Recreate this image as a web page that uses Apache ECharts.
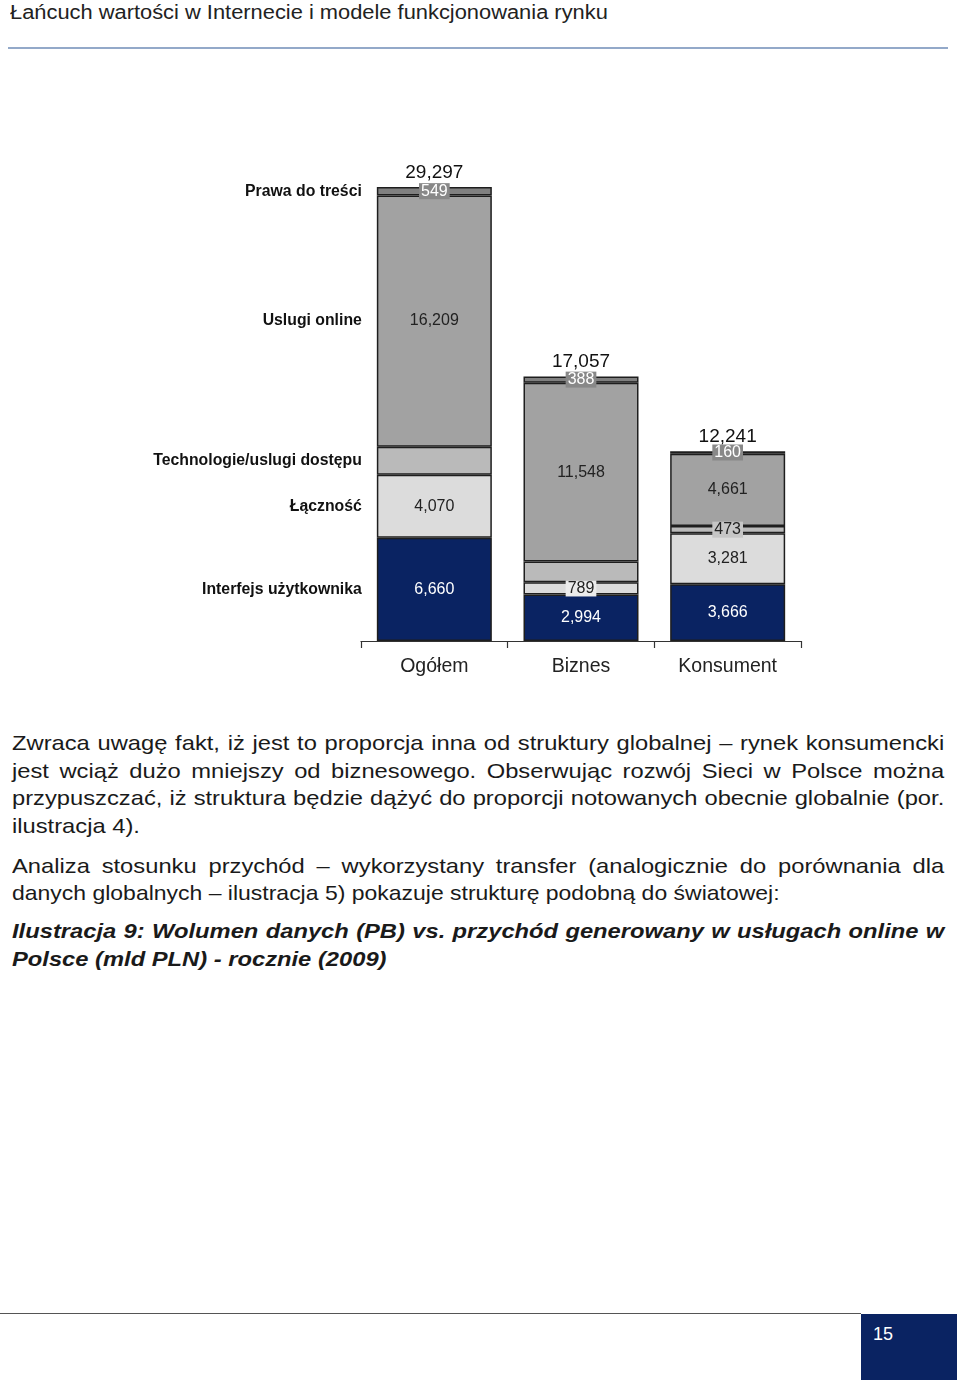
<!DOCTYPE html>
<html><head><meta charset="utf-8">
<script src="https://cdn.jsdelivr.net/npm/echarts@6.0.0/dist/echarts.min.js"></script>
<style>
html,body{margin:0;padding:0;background:#fff}
body{width:960px;height:1383px;position:relative;overflow:hidden;font-family:'Liberation Sans',Arial,sans-serif;color:#1a1a1a}
.hdr{position:absolute;left:10px;top:0px;font-size:20px;line-height:24px;color:#222;white-space:nowrap;transform:scaleX(1.093);transform-origin:0 0}
.hline{position:absolute;left:8px;top:47px;width:940px;height:2px;background:#93a9c9}
.ln{position:absolute;left:12px;width:825px;font-size:21px;line-height:28px;white-space:nowrap;transform:scaleX(1.13);transform-origin:0 0}
.j{text-align:justify;text-align-last:justify;white-space:normal}
.cap{font-weight:bold;font-style:italic}
#chart{position:absolute;left:0;top:132px;width:960px;height:560px}
.fline{position:absolute;left:0;top:1313px;width:861px;height:1px;background:#555}
.fbox{position:absolute;left:861px;top:1314px;width:96px;height:66px;background:#0a2362;color:#fff;font-size:18px}
.fbox span{position:absolute;left:12px;top:10px}
</style></head>
<body>
<div class="hdr">Łańcuch wartości w Internecie i modele funkcjonowania rynku</div>
<div class="hline"></div>
<div id="chart"></div>
<div class="ln j" style="top:729px">Zwraca uwagę fakt, iż jest to proporcja inna od struktury globalnej – rynek konsumencki</div>
<div class="ln j" style="top:757px">jest wciąż dużo mniejszy od biznesowego. Obserwując rozwój Sieci w Polsce można</div>
<div class="ln j" style="top:784px">przypuszczać, iż struktura będzie dążyć do proporcji notowanych obecnie globalnie (por.</div>
<div class="ln" style="top:812px">ilustracja 4).</div>
<div class="ln j" style="top:852px">Analiza stosunku przychód – wykorzystany transfer (analogicznie do porównania dla</div>
<div class="ln" style="top:879px;transform:scaleX(1.094)">danych globalnych – ilustracja 5) pokazuje strukturę podobną do światowej:</div>
<div class="ln j cap" style="top:917px">Ilustracja 9: Wolumen danych (PB) vs. przychód generowany w usługach online w</div>
<div class="ln cap" style="top:945px">Polsce (mld PLN) - rocznie (2009)</div>
<div class="fline"></div>
<div class="fbox"><span>15</span></div>
<script>
const categories = ['Ogółem', 'Biznes', 'Konsument'];
const seriesNames = ['Interfejs użytkownika', 'Łączność', 'Technologie/uslugi dostępu', 'Uslugi online', 'Prawa do treści'];
const interfejs = [6660, 2994, 3666];
const lacznosc = [4070, 789, 3281];
const technologie = [1809, 1338, 473];
const uslugi = [16209, 11548, 4661];
const prawa = [549, 388, 160];

const FONT = "'Liberation Sans', Arial, sans-serif";
const fmt = v => Number(v).toLocaleString('en-US');
const values = [interfejs, lacznosc, technologie, uslugi, prawa];
const totals = categories.map((c, i) => values.reduce((s, arr) => s + arr[i], 0));
const colors = ['#0a2362', '#dcdcdc', '#bababa', '#a2a2a2', '#808080'];
const BW = 115;

function seg(idx, labelCfg, dataFn) {
  return {
    name: seriesNames[idx], type: 'bar', stack: 'a', barWidth: BW,
    itemStyle: { color: colors[idx], borderColor: '#1e1e1e', borderWidth: 1.5 },
    label: Object.assign({ show: true, position: 'inside', fontFamily: FONT, fontSize: 16, color: '#222', formatter: p => fmt(p.value) }, labelCfg),
    data: dataFn ? values[idx].map(dataFn) : values[idx],
    silent: true
  };
}

const chart = echarts.init(document.getElementById('chart'), null, { renderer: 'canvas' });
const option = {
  animation: false,
  grid: { left: 361, right: 159, top: 13, bottom: 51 },
  xAxis: {
    type: 'category', data: categories,
    axisLine: { lineStyle: { color: '#333', width: 1.2 } },
    axisTick: { show: true, length: 7, lineStyle: { color: '#333', width: 1.2 } },
    axisLabel: { fontFamily: FONT, fontSize: 19.5, color: '#222', margin: 16 }
  },
  yAxis: { type: 'value', min: 0, max: 32000, show: false, splitLine: { show: false } },
  series: [
    {
      name: 'Suma', type: 'bar', barWidth: BW, barGap: '-100%', silent: true,
      itemStyle: { color: 'rgba(0,0,0,0)' },
      label: { show: true, position: 'top', distance: 5, fontFamily: FONT, fontSize: 19, color: '#111', formatter: p => fmt(p.value) },
      data: totals
    },
    seg(0, { color: '#fff' }),
    seg(1, {}, (v, i) => i === 1 ? { value: v, label: { backgroundColor: '#ececec', padding: [0, 2] } } : v),
    seg(2, { show: false }, (v, i) => i === 2 ? { value: v, label: { show: true, backgroundColor: '#c6c6c6', padding: [0, 2] } } : v),
    seg(3, {}),
    seg(4, { color: '#fff', backgroundColor: '#888', padding: [0, 2] })
  ]
};
chart.setOption(option);

// series names to the left of the first bar, centred on its segments
const graphics = [];
let cum = 0;
values.forEach((arr, idx) => {
  const mid = cum + arr[0] / 2;
  cum += arr[0];
  const pt = chart.convertToPixel({ gridIndex: 0 }, [0, mid]);
  graphics.push({
    type: 'text', x: pt[0] - BW / 2 - 15, y: pt[1],
    style: { text: seriesNames[idx], font: 'bold 15.8px ' + FONT, fill: '#111', align: 'right', verticalAlign: 'middle' }
  });
});
chart.setOption({ graphic: graphics });
</script>
</body></html>
